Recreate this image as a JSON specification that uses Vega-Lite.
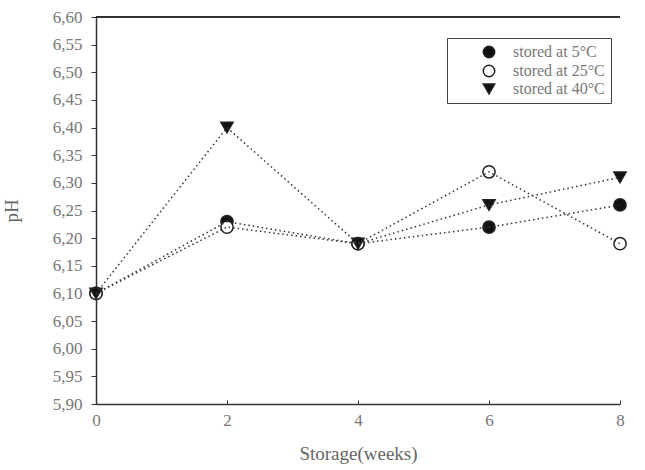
{
  "$schema": "https://vega.github.io/schema/vega-lite/v6.json",
  "width": 524,
  "height": 387,
  "autosize": {"type": "none"},
  "padding": {"left": 96, "top": 17, "right": 25, "bottom": 66},
  "background": "white",
  "config": {
    "view": {"stroke": null},
    "font": "Liberation Serif",
    "axis": {
      "grid": false,
      "domainColor": "#333",
      "domainWidth": 1.5,
      "tickColor": "#333",
      "labelFont": "Liberation Serif",
      "titleFont": "Liberation Serif",
      "labelColor": "#777",
      "titleColor": "#666",
      "labelFontSize": 17,
      "titleFontSize": 19,
      "titleFontWeight": "normal",
      "labelOverlap": false,
      "labelFlush": false
    }
  },
  "data": {
    "values": [
      {"week": 0, "pH": 6.10, "series": "stored at 5°C"},
      {"week": 2, "pH": 6.23, "series": "stored at 5°C"},
      {"week": 4, "pH": 6.19, "series": "stored at 5°C"},
      {"week": 6, "pH": 6.22, "series": "stored at 5°C"},
      {"week": 8, "pH": 6.26, "series": "stored at 5°C"},
      {"week": 0, "pH": 6.10, "series": "stored at 25°C"},
      {"week": 2, "pH": 6.22, "series": "stored at 25°C"},
      {"week": 4, "pH": 6.19, "series": "stored at 25°C"},
      {"week": 6, "pH": 6.32, "series": "stored at 25°C"},
      {"week": 8, "pH": 6.19, "series": "stored at 25°C"},
      {"week": 0, "pH": 6.10, "series": "stored at 40°C"},
      {"week": 2, "pH": 6.40, "series": "stored at 40°C"},
      {"week": 4, "pH": 6.19, "series": "stored at 40°C"},
      {"week": 6, "pH": 6.26, "series": "stored at 40°C"},
      {"week": 8, "pH": 6.31, "series": "stored at 40°C"}
    ]
  },
  "layer": [
    {
      "mark": {"type": "point", "size": 150, "stroke": "#222", "strokeWidth": 1.5, "opacity": 1},
      "encoding": {
        "x": {
          "field": "week", "type": "quantitative",
          "scale": {"domain": [0, 8], "nice": false, "zero": false},
          "axis": {"values": [0, 2, 4, 6, 8], "format": "d", "tickSize": -4, "labelPadding": 12, "title": "Storage(weeks)", "titlePadding": 16}
        },
        "y": {
          "field": "pH", "type": "quantitative",
          "scale": {"domain": [5.9, 6.6], "nice": false, "zero": false},
          "axis": {
            "values": [5.9, 5.95, 6.0, 6.05, 6.1, 6.15, 6.2, 6.25, 6.3, 6.35, 6.4, 6.45, 6.5, 6.55, 6.6],
            "labelExpr": "replace(format(datum.value, '.2f'), '.', ',')",
            "labelOverlap": false,
            "tickCount": 15,
            "tickSize": 5, "labelPadding": 9, "title": "pH", "titlePadding": 31
          }
        },
        "shape": {
          "field": "series", "type": "nominal",
          "scale": {"domain": ["stored at 5°C", "stored at 25°C", "stored at 40°C"], "range": ["circle", "circle", "triangle-down"]},
          "legend": {"title": null}
        },
        "fill": {
          "field": "series", "type": "nominal",
          "scale": {"domain": ["stored at 5°C", "stored at 25°C", "stored at 40°C"], "range": ["#111", "white", "#111"]},
          "legend": {
            "title": null,
            "orient": "none",
            "legendX": 351,
            "legendY": 21,
            "strokeColor": "#444",
            "padding": 6,
            "symbolSize": 130,
            "symbolStrokeColor": "#222",
            "symbolStrokeWidth": 1.5,
            "symbolOpacity": 1,
            "symbolOffset": 28,
            "labelFont": "Liberation Serif",
            "labelFontSize": 16,
            "labelColor": "#777",
            "rowPadding": 1,
            "labelOffset": 16
          }
        }
      }
    },
    {
      "mark": {"type": "line", "color": "#333", "strokeWidth": 1.5, "strokeDash": [1.5, 3]},
      "encoding": {
        "x": {"field": "week", "type": "quantitative"},
        "y": {"field": "pH", "type": "quantitative"},
        "detail": {"field": "series"}
      }
    },
    {
      "mark": {"type": "rule", "color": "#333", "strokeWidth": 1.5},
      "encoding": {"y": {"datum": 6.6, "type": "quantitative"}}
    }
  ]
}
